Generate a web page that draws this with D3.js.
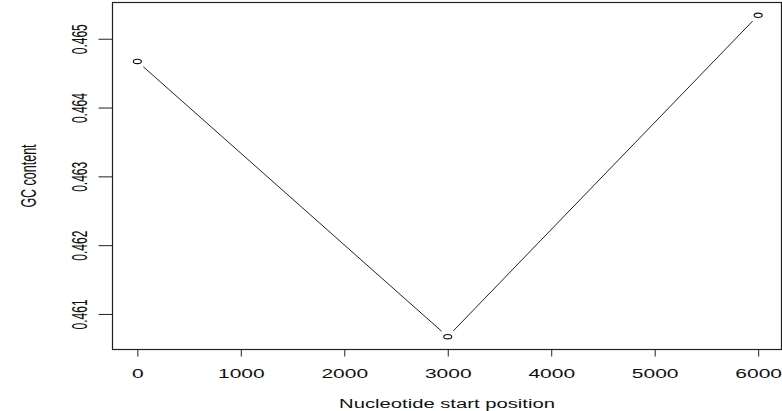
<!DOCTYPE html>
<html>
<head>
<meta charset="utf-8">
<script src="https://cdn.jsdelivr.net/npm/d3@7"></script>
<style>
  body { margin: 0; background: #fff; }
  svg text { font-family: "Liberation Sans", Arial, sans-serif; fill: #111; }
</style>
</head>
<body>
<div class="chart"></div>
<script>
var svgWidth = 782;
var svgHeight = 411;

// window start positions and GC content
var startPos = [0, 3000, 6000];
var gcContent = [0.46467, 0.46067, 0.46534];
var xTicks = [0, 1000, 2000, 3000, 4000, 5000, 6000];
var yTicks = [0.461, 0.462, 0.463, 0.464, 0.465];

var data = startPos.map(function(d, i) { return { pos: d, gc: gcContent[i] }; });

var box = { left: 112.5, right: 783, top: 2.5, bottom: 349.5 };

var svg = d3.select(".chart")
    .append("svg")
    .attr("width", svgWidth)
    .attr("height", svgHeight);

// R style 4% padding on both axes
var xExt = d3.extent(startPos), xPad = (xExt[1] - xExt[0]) * 0.04;
var yExt = d3.extent(gcContent), yPad = (yExt[1] - yExt[0]) * 0.04;

var xScale = d3.scaleLinear()
    .domain([xExt[0] - xPad, xExt[1] + xPad])
    .range([box.left, box.right]);
var yScale = d3.scaleLinear()
    .domain([yExt[0] - yPad, yExt[1] + yPad])
    .range([box.bottom, box.top]);

// axes
var xAxis = svg.append("g")
    .attr("transform", `translate(0, ${box.bottom})`)
    .call(d3.axisBottom(xScale).tickValues(xTicks).tickSize(7).tickFormat(d3.format("d")));
xAxis.select(".domain").remove();
xAxis.selectAll("line").attr("stroke", "#222");
xAxis.selectAll("text")
    .attr("y", null).attr("dy", null)
    .attr("transform", "translate(0, 28) scale(1.68, 1)")
    .style("font-size", "12.5px");

var yAxis = svg.append("g")
    .attr("transform", `translate(${box.left}, 0)`)
    .call(d3.axisLeft(yScale).tickValues(yTicks).tickSize(14).tickFormat(d3.format(".3f")));
yAxis.select(".domain").remove();
yAxis.selectAll("line").attr("stroke", "#222");
yAxis.selectAll("text")
    .attr("x", null).attr("dy", null)
    .attr("text-anchor", "middle")
    .attr("transform", "translate(-26, 0) scale(1.8, 1) rotate(-90)")
    .style("font-size", "12px");

// plot frame
svg.append("rect")
    .attr("x", box.left)
    .attr("y", box.top)
    .attr("width", 781.5 - box.left)
    .attr("height", box.bottom - box.top)
    .attr("fill", "none")
    .attr("stroke", "#222")
    .attr("stroke-width", 1.2);

// type = "b": segments stop short of the points
var gap = 8;
var segs = d3.pairs(data).map(function(p) {
    var x1 = xScale(p[0].pos), y1 = yScale(p[0].gc);
    var x2 = xScale(p[1].pos), y2 = yScale(p[1].gc);
    var len = Math.hypot(x2 - x1, y2 - y1);
    var ux = (x2 - x1) / len, uy = (y2 - y1) / len;
    return [x1 + ux * gap, y1 + uy * gap, x2 - ux * gap, y2 - uy * gap];
});

svg.append("g").selectAll("line")
    .data(segs)
    .enter()
    .append("line")
    .attr("x1", d => d[0])
    .attr("y1", d => d[1])
    .attr("x2", d => d[2])
    .attr("y2", d => d[3])
    .attr("stroke", "#222")
    .attr("stroke-width", 1);

svg.append("g").selectAll("ellipse")
    .data(data)
    .enter()
    .append("ellipse")
    .attr("cx", d => xScale(d.pos))
    .attr("cy", d => yScale(d.gc))
    .attr("rx", 4)
    .attr("ry", 2.2)
    .attr("fill", "none")
    .attr("stroke", "#111")
    .attr("stroke-width", 1.1);

// axis titles
svg.append("text")
    .attr("transform", `translate(${(box.left + 781.5) / 2}, 408) scale(1.62, 1)`)
    .attr("text-anchor", "middle")
    .style("font-size", "12.5px")
    .text("Nucleotide start position");

svg.append("text")
    .attr("transform", `translate(36, ${(box.top + box.bottom) / 2}) scale(1.7, 1) rotate(-90)`)
    .attr("text-anchor", "middle")
    .style("font-size", "12.5px")
    .text("GC content");
</script>
</body>
</html>
